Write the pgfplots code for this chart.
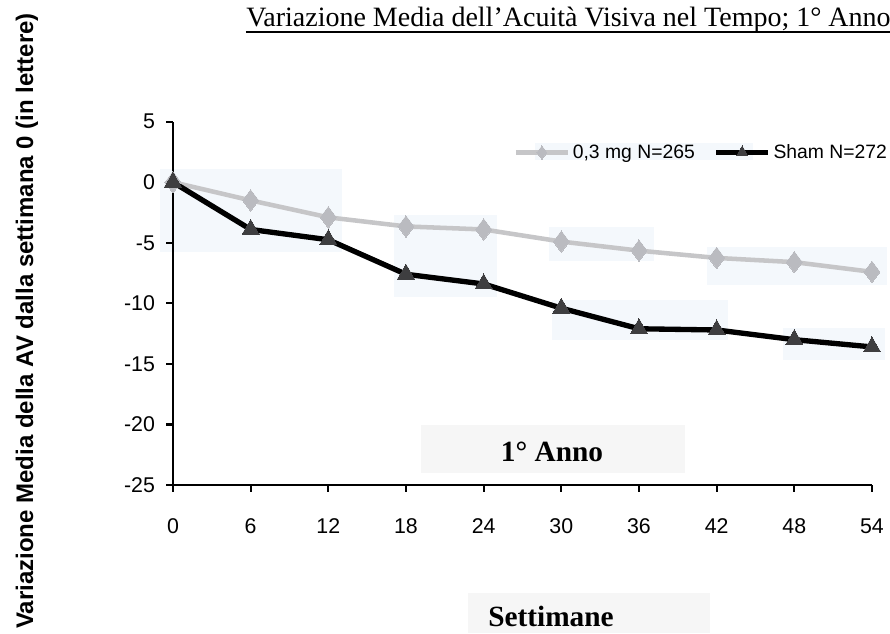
\documentclass[border=0pt]{standalone}
\usepackage{fontspec}
\setmainfont{Liberation Serif}
\setsansfont{Liberation Sans}
\usepackage{pgfplots}
\pgfplotsset{compat=1.18}
\definecolor{lightg}{RGB}{198,198,200}
\definecolor{markg}{RGB}{186,187,192}
\definecolor{darkg}{RGB}{62,62,64}
\definecolor{faint}{RGB}{244,248,252}
\definecolor{faintg}{RGB}{246,246,246}
\begin{document}
\begin{tikzpicture}
\begin{scope}[x=0.75pt,y=-0.75pt,xshift=-129.75pt,yshift=363.75pt]
 \fill[faint] (160,169) rectangle (342,252);
 \fill[faint] (394,215) rectangle (497,297);
 \fill[faint] (549,227) rectangle (654,261);
 \fill[faint] (707,247) rectangle (887,285);
 \fill[faint] (552,300) rectangle (728,340);
 \fill[faint] (783,328) rectangle (885,360);
 \fill[faint] (535,143) rectangle (753,160);
 \fill[faintg] (421,425) rectangle (685,473);
 \fill[faintg] (468,593) rectangle (710,633);
\end{scope}
\begin{axis}[
  at={(0,0)}, anchor=south west,
  scale only axis, width=524.25pt, height=272.5pt,
  xmin=0, xmax=54, ymin=-25, ymax=5,
  axis x line*=bottom, axis y line*=left,
  axis line style={line width=1.6pt, black},
  clip=false,
  xtick={0,6,12,18,24,30,36,42,48,54},
  xticklabels={0,6,12,18,24,30,36,42,48,54},
  ytick={-25,-20,-15,-10,-5,0,5},
  yticklabels={-25,-20,-15,-10,-5,0,5},
  tick align=outside, major tick length=5pt,
  tick style={line width=1.6pt, black},
  ticklabel style={font=\sffamily\fontsize{16}{16}\selectfont},
  xticklabel style={yshift=-17pt},
  yticklabel style={xshift=-5pt},
  legend columns=2,
  legend style={draw=none, fill=none, at={(0.487,0.915)}, anchor=west,
    font=\sffamily\fontsize{14.5}{14.5}\selectfont, inner sep=0pt,
    nodes={inner sep=2pt},
    /tikz/every even column/.append style={column sep=12pt}},
  legend image code/.code={\draw[#1, mark size=5pt, mark repeat=2, mark phase=2] plot coordinates {(0pt,0pt) (19.5pt,0pt) (39pt,0pt)};},
]
\addplot[color=lightg, line width=3.4pt, mark=diamond*, mark size=8pt,
  mark options={fill=markg, draw=markg, line width=0pt}]
  coordinates {(0,0) (6,-1.5) (12,-2.9) (18,-3.65) (24,-3.9) (30,-4.9) (36,-5.65) (42,-6.25) (48,-6.6) (54,-7.4)};
\addlegendentry{0,3 mg N=265}
\addplot[color=black, line width=4pt, mark=triangle*, mark size=7.5pt,
  mark options={fill=darkg, draw=darkg, line width=0pt}]
  coordinates {(0,0) (6,-3.9) (12,-4.75) (18,-7.6) (24,-8.4) (30,-10.4) (36,-12.1) (42,-12.2) (48,-13.0) (54,-13.6)};
\addlegendentry{Sham N=272}
\end{axis}
\begin{scope}[x=0.75pt,y=-0.75pt,xshift=-129.75pt,yshift=363.75pt]
 \node[anchor=base west, inner sep=0pt, font=\fontsize{21}{21}\selectfont] (t) at (246,27) {Variazione Media dell’Acuità Visiva nel Tempo; 1° Anno};
 \draw[line width=1.2pt] (246,32) -- (t.base east |- 0,32);
 \node[anchor=base, inner sep=0pt, font=\bfseries\fontsize{22}{22}\selectfont] at (552,461.7) {1° Anno};
 \node[anchor=base, inner sep=0pt, font=\bfseries\fontsize{22}{22}\selectfont] at (551,626) {Settimane};
 \node[rotate=90, inner sep=0pt, font=\sffamily\bfseries\fontsize{18}{18}\selectfont] at (27,321) {Variazione Media della AV dalla settimana 0 (in lettere)};
 \pgfresetboundingbox
 \useasboundingbox (0,0) rectangle (890,633);
\end{scope}
\end{tikzpicture}
\end{document}
